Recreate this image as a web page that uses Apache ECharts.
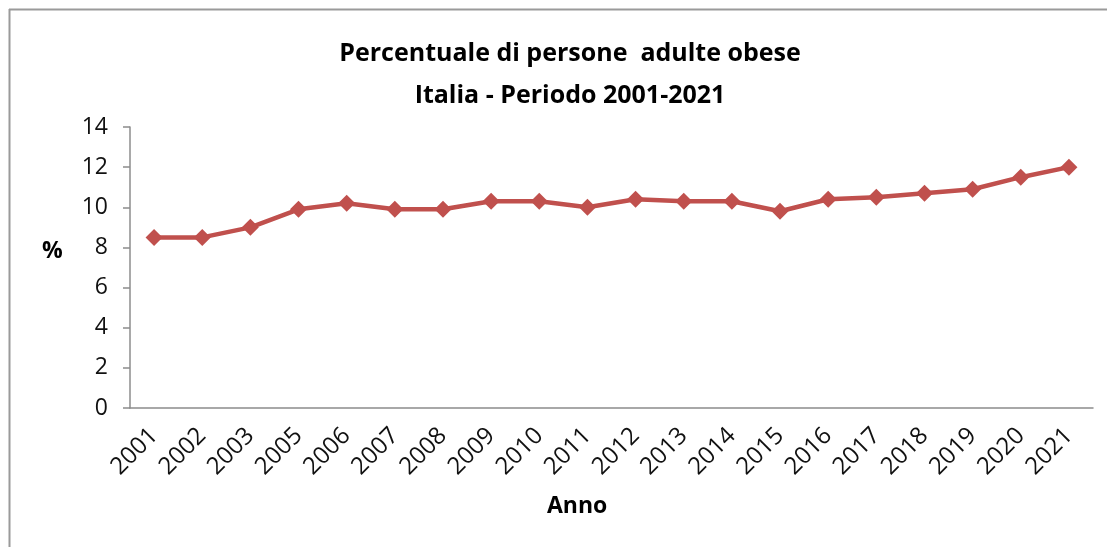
<!DOCTYPE html>
<html>
<head>
<meta charset="utf-8">
<script src="https://cdn.jsdelivr.net/npm/echarts@6/dist/echarts.min.js"></script>
<style>
  html, body { margin: 0; padding: 0; background: #fff; }
  #chart { width: 1107px; height: 547px; }
</style>
</head>
<body>
<div id="chart"></div>
<script>
// data (note: no 2004)
const anni = ['2001', '2002', '2003', '2005', '2006', '2007', '2008', '2009', '2010', '2011',
  '2012', '2013', '2014', '2015', '2016', '2017', '2018', '2019', '2020', '2021'];
const obesi = [8.5, 8.5, 9.0, 9.9, 10.2, 9.9, 9.9, 10.3, 10.3, 10.0,
  10.4, 10.3, 10.3, 9.8, 10.4, 10.5, 10.7, 10.9, 11.5, 12.0];
const yTicks = [0, 2, 4, 6, 8, 10, 12, 14];

const font = '"Open Sans", sans-serif';
const chart = echarts.init(document.getElementById('chart'));

chart.setOption({
  animation: false,
  title: {
    text: 'Percentuale di persone  adulte obese\nItalia - Periodo 2001-2021',
    left: 565,
    top: 28,
    textAlign: 'center',
    textStyle: { fontFamily: font, fontSize: 25, fontWeight: 'bold', color: '#000', lineHeight: 42 }
  },
  grid: { left: 130, right: 14, top: 127, bottom: 139 },
  xAxis: {
    type: 'category',
    data: anni,
    axisLine: { lineStyle: { color: '#8c8c8c', width: 1.5 } },
    axisTick: { length: 8, lineStyle: { color: '#8c8c8c', width: 1.5 } },
    axisLabel: { rotate: 45, margin: 24, fontFamily: font, fontSize: 24, color: '#111', interval: 0, hideOverlap: false }
  },
  yAxis: {
    type: 'value',
    min: yTicks[0],
    max: yTicks[yTicks.length - 1],
    interval: 2,
    splitLine: { show: false },
    axisLine: { show: true, lineStyle: { color: '#8c8c8c', width: 1.5 } },
    axisTick: { show: true, length: 7, lineStyle: { color: '#8c8c8c', width: 1.5 } },
    axisLabel: { margin: 22, fontFamily: font, fontSize: 23, color: '#111' }
  },
  series: [{
    type: 'line',
    data: obesi,
    symbol: 'diamond',
    symbolSize: 17,
    lineStyle: { color: '#c0504d', width: 4.5 },
    itemStyle: { color: '#c0504d' }
  }],
  graphic: [
    { type: 'line', shape: { x1: 9, y1: 9.5, x2: 1107, y2: 9.5 }, style: { stroke: '#9a9a9a', lineWidth: 2 } },
    { type: 'line', shape: { x1: 9.5, y1: 9, x2: 9.5, y2: 547 }, style: { stroke: '#9a9a9a', lineWidth: 2 } },
    { type: 'text', left: 42, top: 240, style: { text: '%', font: 'bold 23px ' + font, fill: '#000' } },
    { type: 'text', left: 547, top: 495, style: { text: 'Anno', font: 'bold 23px ' + font, fill: '#000' } }
  ]
});
</script>
</body>
</html>
